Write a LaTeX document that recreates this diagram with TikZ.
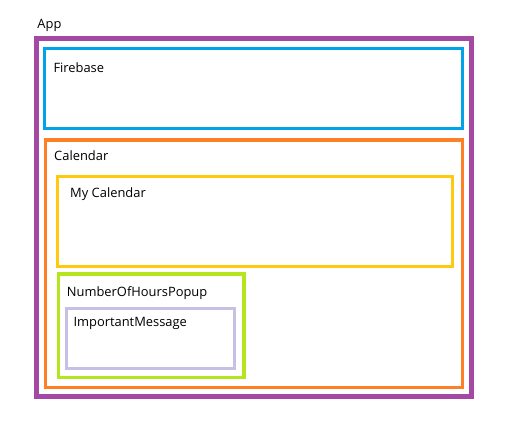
\documentclass[tikz,border=0pt]{standalone}
\usepackage{fontspec}
\setmainfont{Open Sans}
\definecolor{apppurple}{HTML}{A349A4}
\definecolor{fireblue}{HTML}{00A2E8}
\definecolor{calorange}{HTML}{FF7F27}
\definecolor{myyellow}{HTML}{FFC90E}
\definecolor{popgreen}{HTML}{B5E61D}
\definecolor{msglavender}{HTML}{C8BFE7}
\tikzset{
  label text/.style={anchor=base west, inner sep=0pt, font=\fontsize{12.9}{15}\selectfont},
  frame/.style={line width=3.2pt, line join=miter}
}

\begin{document}
\begin{tikzpicture}[x=1pt, y=-1pt]
    \useasboundingbox (0,0) rectangle (512,442);
    % frames, corners in pixels of the drawing
    \draw[frame, apppurple, line width=5pt] (36.5,38.5) rectangle (471.7,396.2);
    \draw[frame, fireblue] (44.4,48.4) rectangle (462.6,128.8);
    \draw[frame, calorange] (45.7,140) rectangle (462.6,387.7);
    \draw[frame, myyellow] (57.5,176.5) rectangle (452.6,266.5);
    \draw[frame, popgreen] (58.4,274) rectangle (244,377.7);
    \draw[frame, msglavender] (66.6,308.2) rectangle (234.2,368.2);
    % labels
    \node[label text] (app) at (37.3,28.3) {App};
    \node[label text] (firebase) at (53.3,72.3) {Firebase};
    \node[label text] (calendar) at (54,160.7) {Calendar};
    \node[label text] (mycal) at (70,197.7) {My Calendar};
    \node[label text] (popup) at (66.7,296.7) {NumberOfHoursPopup};
    \node[label text] (message) at (73.3,326.7) {ImportantMessage};
\end{tikzpicture}
\end{document}
